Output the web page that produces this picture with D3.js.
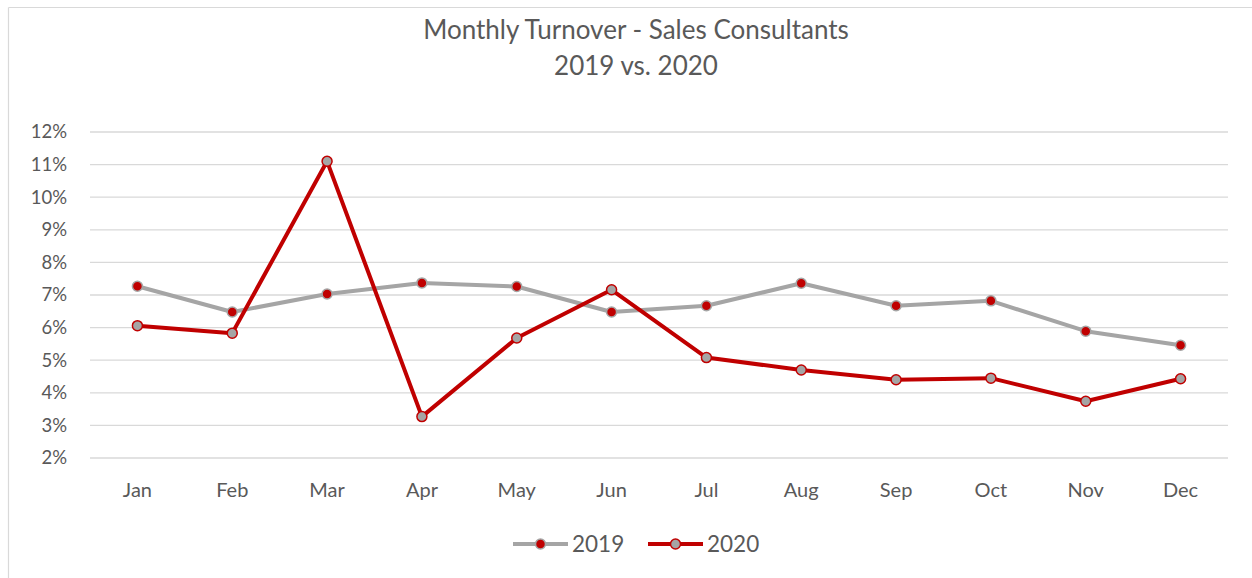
<!DOCTYPE html>
<html>
<head>
<meta charset="utf-8">
<script src="https://cdn.jsdelivr.net/npm/d3@7"></script>
<style>
  html, body { margin: 0; padding: 0; background: #fff; }
  svg { display: block; }
  text { font-family: Lato, "Open Sans", sans-serif; fill: #595959; }
</style>
</head>
<body>
<svg id="chart" width="1252" height="578"></svg>
<script>
const months = ["Jan","Feb","Mar","Apr","May","Jun","Jul","Aug","Sep","Oct","Nov","Dec"];
const values2019 = [7.27, 6.48, 7.03, 7.37, 7.26, 6.48, 6.67, 7.36, 6.67, 6.82, 5.89, 5.46];
const values2020 = [6.06, 5.83, 11.1, 3.27, 5.68, 7.16, 5.08, 4.70, 4.40, 4.45, 3.74, 4.43];
const yTicks = [2,3,4,5,6,7,8,9,10,11,12];
const titleLines = ["Monthly Turnover - Sales Consultants", "2019 vs. 2020"];
const seriesNames = ["2019", "2020"];

const W = 1252, H = 578;
const svg = d3.select("#chart");
const grid = "#D9D9D9";
const gray = "#A5A5A5", red = "#C00000";

// outer border (top and left visible)
svg.append("line").attr("x1", 8.5).attr("x2", W).attr("y1", 7.5).attr("y2", 7.5).attr("stroke", grid).attr("stroke-width", 1.2);
svg.append("line").attr("x1", 8.5).attr("x2", 8.5).attr("y1", 7.5).attr("y2", H).attr("stroke", grid).attr("stroke-width", 1.2);

// title
svg.append("g").selectAll("text").data(titleLines).join("text")
  .attr("x", 636).attr("y", (d, i) => 39 + i * 36)
  .attr("text-anchor", "middle").attr("font-size", 26).text(d => d);

const x = d3.scaleBand().domain(months).range([90, 1228]);
const y = d3.scaleLinear().domain([2, 12]).range([458, 132]);

// gridlines
svg.append("g").selectAll("line").data(yTicks).join("line")
  .attr("x1", 90).attr("x2", 1228)
  .attr("y1", d => y(d)).attr("y2", d => y(d))
  .attr("stroke", grid).attr("stroke-width", 1.3);

// y axis
const yAxis = svg.append("g").attr("transform", "translate(90,0)")
  .call(d3.axisLeft(y).tickValues(yTicks).tickFormat(d => d + "%").tickSize(0).tickPadding(23));
yAxis.select(".domain").remove();
yAxis.selectAll("text").attr("font-size", 18.5).attr("font-family", "Lato, sans-serif").attr("fill", "#595959");

// x axis
const xAxis = svg.append("g").attr("transform", "translate(0,458)")
  .call(d3.axisBottom(x).tickSize(0).tickPadding(25));
xAxis.select(".domain").remove();
xAxis.selectAll("text").attr("font-size", 20).attr("font-family", "Lato, sans-serif").attr("fill", "#595959");

const cx = m => x(m) + x.bandwidth() / 2;
const line = d3.line().x((d, i) => cx(months[i])).y(d => y(d));

function drawSeries(vals, lineColor, markFill, markStroke) {
  svg.append("path").datum(vals).attr("d", line)
    .attr("fill", "none").attr("stroke", lineColor).attr("stroke-width", 4)
    .attr("stroke-linejoin", "round");
  svg.append("g").selectAll("circle").data(vals).join("circle")
    .attr("cx", (d, i) => cx(months[i])).attr("cy", d => y(d)).attr("r", 5)
    .attr("fill", markFill).attr("stroke", markStroke).attr("stroke-width", 1.5);
}
drawSeries(values2019, gray, red, gray);
drawSeries(values2020, red, gray, red);

// legend
const legend = [
  { name: seriesNames[0], lc: gray, mf: red, ms: gray, x0: 513 },
  { name: seriesNames[1], lc: red, mf: gray, ms: red, x0: 648 }
];
const lg = svg.append("g");
legend.forEach(l => {
  lg.append("line").attr("x1", l.x0).attr("x2", l.x0 + 55).attr("y1", 544).attr("y2", 544)
    .attr("stroke", l.lc).attr("stroke-width", 4);
  lg.append("circle").attr("cx", l.x0 + 27.5).attr("cy", 544).attr("r", 5)
    .attr("fill", l.mf).attr("stroke", l.ms).attr("stroke-width", 1.5);
  lg.append("text").attr("x", l.x0 + 59).attr("y", 552).attr("font-size", 22.5).text(l.name);
});
</script>
</body>
</html>
